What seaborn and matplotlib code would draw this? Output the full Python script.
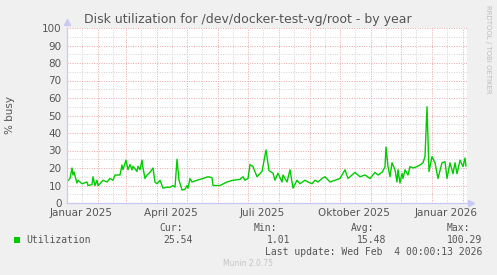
import numpy as np
import pandas as pd
import matplotlib
matplotlib.use("Agg")
import matplotlib.pyplot as plt
from matplotlib.patches import Rectangle
import seaborn as sns

# ---- data (day offset from 2025-01-01, % busy) ----
day_offsets = [0, 3, 5, 6, 7, 10, 11, 15, 20, 21, 25, 26, 28, 30, 31, 33, 36, 40, 43, 46,
               48, 51, 53, 55, 56, 59, 61, 63, 65, 66, 70, 71, 73, 75, 76, 78, 80, 83, 86,
               88, 90, 93, 95, 96, 100, 103, 106, 108, 110, 112, 115, 118, 120, 121, 123,
               125, 130, 136, 141, 145, 146, 153, 160, 166, 173, 176, 178, 181, 183, 186,
               190, 195, 199, 202, 206, 208, 211, 215, 216, 220, 223, 226, 230, 233, 238,
               241, 245, 248, 251, 255, 258, 263, 268, 273, 278, 281, 285, 288, 293, 298,
               303, 308, 311, 315, 318, 319, 321, 323, 325, 328, 330, 331, 333, 335, 336,
               338, 341, 343, 346, 350, 353, 356, 358, 360, 361, 362, 365, 368, 371, 375,
               378, 380, 383, 386, 388, 390, 393, 396, 398, 399]
busy_values = [12.2, 14, 20, 16, 17.7, 11.4, 13, 11, 12, 10, 10.5, 15, 10, 13, 10, 11, 13,
               12, 14, 13, 16, 16, 16, 21.7, 19, 24.5, 19, 22, 19, 21, 18, 21, 19, 24.5, 20,
               14, 16, 17.5, 20, 12, 11, 13, 10, 8.5, 9, 9, 10, 9, 25, 13, 7.4, 7.8, 10, 8.5,
               14, 12, 13, 14, 15, 14.5, 10, 10, 12, 13, 13.5, 15, 13, 14, 22, 20.8, 15, 18,
               30.3, 18.5, 17, 13, 17, 12, 16, 12, 19, 8.5, 13, 11, 13, 12, 11, 13, 12, 14,
               15, 12, 13, 14, 19, 14, 16, 17.5, 15, 16, 14, 17.5, 16, 17.5, 20.6, 32, 20.8,
               15, 23, 19, 12, 19, 11.4, 17, 14, 19, 16, 20.8, 20, 20.8, 21.7, 23, 26.5, 55,
               np.nan, 18, 26.5, 23, 14, 23, 23.6, 14, 23, 16.7, 23, 16.7, 24.5, 20.8, 25.7,
               21]

x_labels = ["Januar 2025", "April 2025", "Juli 2025", "Oktober 2025", "Januar 2026"]
x_label_dates = ["2025-01-15", "2025-04-15", "2025-07-15", "2025-10-15", "2026-01-15"]
y_ticks = list(range(0, 101, 10))

start = pd.Timestamp("2025-01-01")
end = start + pd.Timedelta(days=400)
df = pd.DataFrame({"date": start + pd.to_timedelta(day_offsets, unit="D"),
                   "busy": busy_values})

sns.set_theme(style="white")
plt.rcParams["font.family"] = ["DejaVu Sans"]

W, H = 497, 275
fig = plt.figure(figsize=(W / 100, H / 100), dpi=100)
fig.patch.set_facecolor("#f0f0f0")
ax = fig.add_axes([67 / W, 1 - 203 / H, 400 / W, 175 / H])
ax.set_facecolor("white")

green = "#00cc00"
red_grid = "#eaa5a5"
gray_grid = "#d2d2d2"
axis_col = "#c8c8f4"
text_col = "#555555"

# grid
month_starts = pd.date_range("2025-02-01", "2026-02-01", freq="MS")
mid_months = pd.date_range("2025-01-01", "2026-02-01", freq="MS") + pd.Timedelta(days=15)
ax.set_xticks(month_starts)
ax.set_xticks(mid_months, minor=True)
ax.set_yticks(y_ticks)
ax.set_yticks(np.arange(5, 100, 10), minor=True)
ax.grid(which="major", color=red_grid, linestyle=(0, (1, 1.5)), linewidth=0.7)
ax.grid(which="minor", color=gray_grid, linestyle=(0, (1, 1.5)), linewidth=0.7)
ax.set_axisbelow(True)

sns.lineplot(data=df, x="date", y="busy", ax=ax, color=green, linewidth=1.0,
             estimator=None, sort=False)

ax.set_xlim(start, end)
ax.set_ylim(0, 100)
ax.set_xlabel("")
ax.set_ylabel("")
ax.xaxis.set_major_formatter(plt.NullFormatter())
ax.xaxis.set_minor_formatter(plt.NullFormatter())
ax.tick_params(axis="x", which="major", length=2, color="#e08080", direction="out", width=0.8)
ax.tick_params(axis="x", which="minor", length=2, color="#bbbbbb", direction="out", width=0.8)
ax.tick_params(axis="y", which="major", length=2, color="#e08080", labelsize=7.5,
               labelcolor=text_col, pad=2)
ax.tick_params(axis="y", which="minor", length=0)

for s in ["top", "right"]:
    ax.spines[s].set_visible(False)
for s in ["left", "bottom"]:
    ax.spines[s].set_color(axis_col)
    ax.spines[s].set_linewidth(0.9)

# axis arrows
ax.plot([0], [1.035], marker="^", markersize=4, color=axis_col, transform=ax.transAxes,
        clip_on=False)
ax.plot([1.01], [0], marker=">", markersize=4, color=axis_col, transform=ax.transAxes,
        clip_on=False)

# date labels centered mid-month
for lab, d in zip(x_labels, x_label_dates):
    ax.text(pd.Timestamp(d), -0.03, lab, transform=ax.get_xaxis_transform(),
            ha="center", va="top", fontsize=7.5, color=text_col)

def fy(y):
    return 1 - y / H

fig.text(248 / W, fy(19), "Disk utilization for /dev/docker-test-vg/root - by year",
         ha="center", va="center", fontsize=9.0, color=text_col)
fig.text(10 / W, fy(115), "% busy", rotation=90, ha="center", va="center",
         fontsize=7.5, color=text_col)
fig.text(488 / W, fy(5), "RRDTOOL / TOBI OETIKER", rotation=270, ha="center", va="top",
         fontsize=5, color="#bdbdbd")

mono = dict(family="DejaVu Sans Mono", fontsize=7, color=text_col, va="center")
fig.patches.append(Rectangle((14 / W, fy(243)), 6 / W, 6 / H, transform=fig.transFigure,
                             facecolor=green, edgecolor="none"))
fig.text(26 / W, fy(240), "Utilization", ha="left", **mono)
for hx, head, vx, val in [(159, "Cur:", 193, "25.54"), (254, "Min:", 290, "1.01"),
                          (351, "Avg:", 386, "15.48"), (447, "Max:", 482, "100.29")]:
    fig.text(hx / W, fy(228), head, ha="left", **mono)
    fig.text(vx / W, fy(240), val, ha="right", **mono)
fig.text(482 / W, fy(252), "Last update: Wed Feb  4 00:00:13 2026", ha="right", **mono)
fig.text(248 / W, fy(263), "Munin 2.0.75", ha="center", va="center", fontsize=5.5,
         color="#c4c4c4")

fig.savefig("out.png", dpi=100, facecolor=fig.get_facecolor())
